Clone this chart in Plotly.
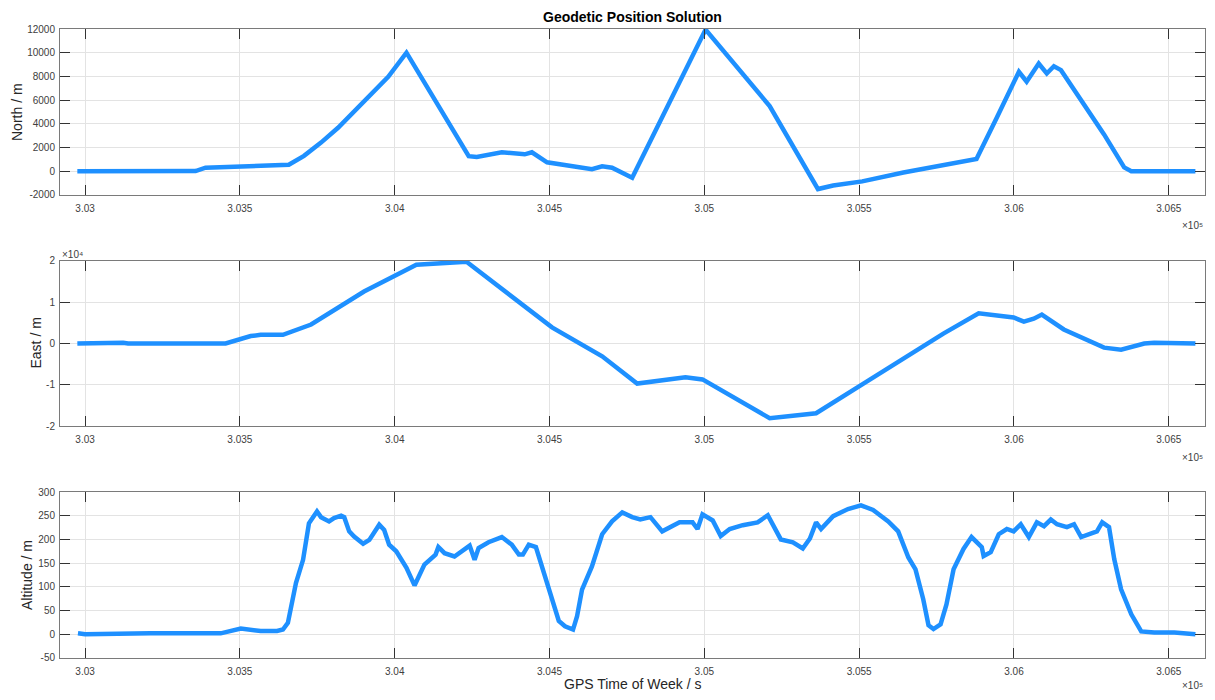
import plotly.graph_objects as go

# ---------------- data (GPS time of week in seconds) ----------------
north_t = [302975, 303357, 303389, 303500, 303658, 303707, 303762, 303817, 303869, 303924,
           303979, 304038, 304239, 304265, 304346, 304420, 304443, 304492, 304637, 304670,
           304702, 304767, 305004, 305211, 305367, 305416, 305510, 305643, 305805, 305847,
           305879, 305944, 306016, 306041, 306080, 306106, 306129, 306152, 306291, 306356,
           306379, 306586]
north_v = [0, 20, 300, 420, 550, 1300, 2420, 3670, 5060, 6440,
           7970, 10000, 1270, 1200, 1600, 1430, 1600, 760, 170, 420,
           300, -550, 11950, 5500, -1500, -1200, -850, -100, 610, 890,
           1030, 4500, 8390, 7560, 9080, 8250, 8860, 8530, 3110, 330,
           0, 0]

east_t = [302975, 303058, 303123, 303139, 303302, 303389, 303454, 303535, 303567, 303639,
          303730, 303901, 304021, 304070, 304232, 304508, 304670, 304783, 304939, 304994,
          305211, 305318, 305361, 305510, 305772, 305886, 305999, 306032, 306064, 306090,
          306161, 306291, 306346, 306421, 306453, 306586]
east_v = [0, 200, 200, 0, 100, -100, 0, 1800, 2100, 2100,
          4600, 12600, 17200, 19100, 19800, 3900, -3100, -9700, -8200, -8700,
          -18100, -17400, -16900, -9900, 2400, 7300, 6300, 5300, 6000, 7000,
          3400, -1000, -1500, 0, 200, 0]

alt_t = [302977, 303000, 303211, 303438, 303503, 303567, 303620, 303639, 303655, 303681,
         303704, 303723, 303749, 303762, 303788, 303804, 303827, 303837, 303853, 303869,
         303898, 303918, 303950, 303966, 303982, 304005, 304038, 304064, 304096, 304119,
         304132, 304141, 304161, 304193, 304222, 304242, 304258, 304271, 304303, 304346,
         304378, 304401, 304414, 304433, 304456, 304475, 304501, 304530, 304550, 304576,
         304589, 304605, 304637, 304670, 304702, 304735, 304767, 304793,
         304826, 304864, 304920, 304962, 304978, 304994, 305027, 305053, 305082, 305124,
         305172, 305205, 305247, 305286, 305318, 305341, 305361, 305377, 305416, 305464,
         305506, 305545, 305594, 305626, 305659, 305682, 305707, 305724, 305740, 305763,
         305782, 305805, 305837, 305863, 305896, 305902, 305925, 305951, 305977, 305999,
         306022, 306048, 306074, 306097, 306119, 306139, 306171, 306194, 306217, 306249,
         306268, 306285, 306307, 306324, 306346, 306379, 306411, 306453, 306518, 306586]
alt_v = [2, 0, 2, 2, 12, 7, 7, 10, 24, 108,
         157, 234, 259, 247, 238, 245, 250, 247, 217, 206,
         191, 199, 231, 220, 189, 175, 140, 103, 147, 161,
         168, 184, 171, 164, 177, 187, 157, 182, 194, 205,
         189, 168, 168, 189, 184, 143, 87, 28, 17, 10,
         38, 94, 143, 211, 238, 257, 247, 242,
         247, 217, 236, 236, 222, 253, 240, 207, 222, 230,
         236, 251, 200, 194, 181, 202, 236, 222, 249, 264,
         272, 262, 238, 217, 162, 137, 74, 19, 11, 21,
         63, 137, 180, 205, 184, 165, 173, 211, 222, 217,
         232, 205, 236, 228, 242, 232, 226, 232, 205, 211,
         217, 236, 226, 158, 95, 42, 6, 4, 4, 0]

x_tickvals = [303000, 303500, 304000, 304500, 305000, 305500, 306000, 306500]
x_ticktext = ["3.03", "3.035", "3.04", "3.045", "3.05", "3.055", "3.06", "3.065"]
north_ticks = [-2000, 0, 2000, 4000, 6000, 8000, 10000, 12000]
east_tickvals = [-20000, -10000, 0, 10000, 20000]
east_ticktext = ["-2", "-1", "0", "1", "2"]
alt_ticks = [-50, 0, 50, 100, 150, 200, 250, 300]

title_text = "Geodetic Position Solution"
y_titles = ["North / m", "East / m", "Altitude / m"]
x_title = "GPS Time of Week / s"
x_exponent = "×10⁵"
east_exponent = "×10⁴"

# ---------------- style ----------------
LINE_COLOR = "#1E90FF"
FONT = "Liberation Sans, Arial, sans-serif"
TICK_COLOR = "#404040"
LABEL_COLOR = "#262626"
BOX_COLOR = "#7a7a7a"
GRID_COLOR = "#e3e3e3"

fig = go.Figure()
series = [(north_t, north_v), (east_t, east_v), (alt_t, alt_v)]
for i, (t, v) in enumerate(series):
    sfx = "" if i == 0 else str(i + 1)
    fig.add_trace(go.Scatter(x=t, y=v, mode="lines",
                             line=dict(color=LINE_COLOR, width=4.5),
                             xaxis="x" + sfx, yaxis="y" + sfx,
                             showlegend=False, hoverinfo="skip"))

domains = [[0.7361, 1.0], [0.3688, 0.6312], [0.0, 0.2639]]
y_ranges = [[-2000, 12000], [-20000, 20000], [-50, 300]]
y_tv = [north_ticks, east_tickvals, alt_ticks]
y_tt = [[str(v) for v in north_ticks], east_ticktext, [str(v) for v in alt_ticks]]
ytitle_shift = [-43, -25, -33]
exp_shift = [-31, -31, -27]

common_axis = dict(showline=True, linecolor=BOX_COLOR, linewidth=1, mirror="ticks",
                   ticks="inside", ticklen=10, tickcolor="#333333", tickwidth=1,
                   showgrid=True, gridcolor=GRID_COLOR, gridwidth=1, zeroline=False,
                   automargin=False,
                   tickfont=dict(family=FONT, size=10, color=TICK_COLOR))

# page body has an 8px default margin; size the figure to fit the 1215x700 window
layout = dict(width=1199, height=684, paper_bgcolor="white", plot_bgcolor="white",
              margin=dict(l=52, r=2, t=21, b=34, autoexpand=False), showlegend=False,
              font=dict(family=FONT))

for i in range(3):
    sfx = "" if i == 0 else str(i + 1)
    layout["xaxis" + sfx] = dict(common_axis, domain=[0, 1], range=[302919, 306617],
                                 tickvals=x_tickvals, ticktext=x_ticktext,
                                 ticklabelstandoff=4, anchor="y" + sfx)
    layout["yaxis" + sfx] = dict(common_axis, domain=domains[i], range=y_ranges[i],
                                 tickvals=y_tv[i], ticktext=y_tt[i], anchor="x" + sfx,
                                 ticklabelstandoff=2)

fig.update_layout(**layout)

annotations = [
    dict(text="<b>" + title_text + "</b>", xref="paper", yref="paper", x=0.5, y=1.0,
         yshift=12, xanchor="center", yanchor="middle", showarrow=False,
         font=dict(family=FONT, size=14, color="#000000")),
    dict(text=x_title, xref="paper", yref="paper", x=0.5, y=0.0, yshift=-26,
         xanchor="center", yanchor="middle", showarrow=False,
         font=dict(family=FONT, size=14, color=LABEL_COLOR)),
]
for i, dom in enumerate(domains):
    annotations.append(dict(text=y_titles[i], xref="paper", yref="paper", x=0.0,
                            y=(dom[0] + dom[1]) / 2, xshift=ytitle_shift[i],
                            xanchor="center", yanchor="middle", textangle=-90,
                            showarrow=False,
                            font=dict(family=FONT, size=14, color=LABEL_COLOR)))
    annotations.append(dict(text=x_exponent, xref="paper", yref="paper", x=1.0,
                            y=dom[0], yshift=exp_shift[i], xanchor="right",
                            yanchor="middle", showarrow=False,
                            font=dict(family=FONT, size=10, color=TICK_COLOR)))
annotations.append(dict(text=east_exponent, xref="paper", yref="paper", x=0.0,
                        y=domains[1][1], yshift=6, xanchor="left", yanchor="middle",
                        showarrow=False,
                        font=dict(family=FONT, size=10, color=TICK_COLOR)))
fig.update_layout(annotations=annotations)

fig.write_html("out.html")
